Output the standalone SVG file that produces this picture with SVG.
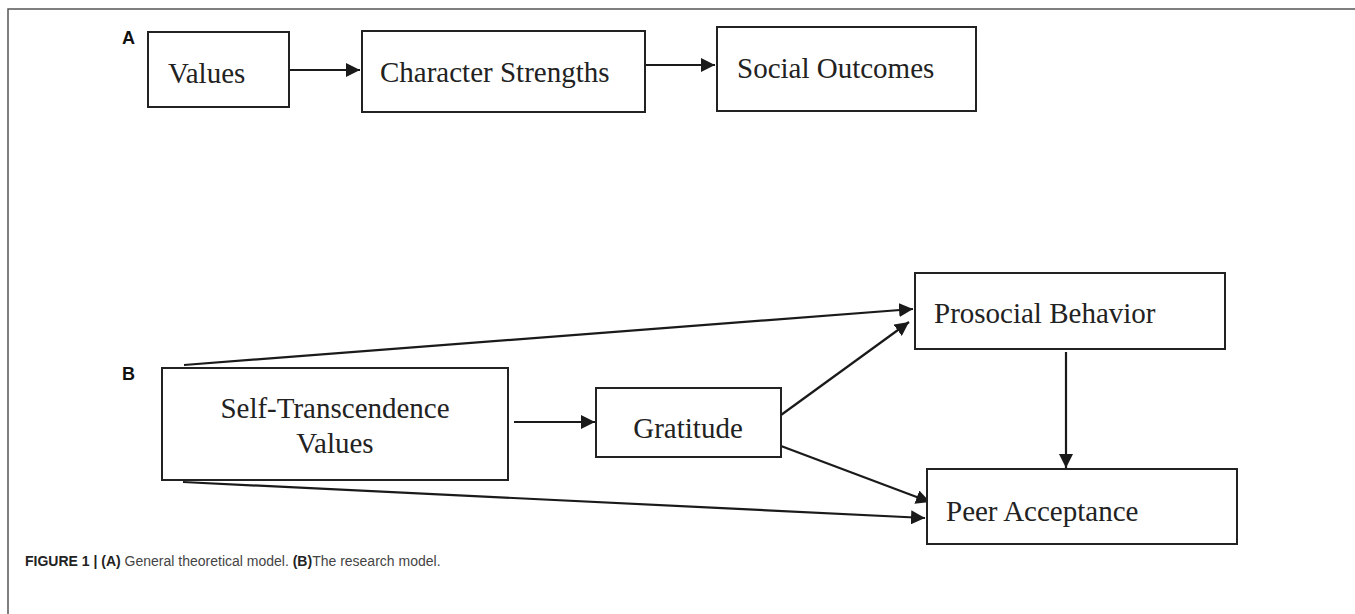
<svg xmlns="http://www.w3.org/2000/svg" width="1355" height="614" viewBox="0 0 1355 614">
<defs>
<style>
.box{fill:#fff;stroke:#222;stroke-width:2}
.lbl{font-family:"Liberation Serif","Times New Roman",serif;font-size:29px;fill:#222}
.tag{font-family:"Liberation Sans",Arial,sans-serif;font-size:18px;font-weight:bold;fill:#111}
.edge{stroke:#1a1a1a;stroke-width:2.2;fill:none;marker-end:url(#ah)}
.frame{stroke:#555;stroke-width:1.5;fill:none}
.cap{font-family:"Liberation Sans",Arial,sans-serif;font-size:14px;fill:#444}
</style>
<marker id="ah" viewBox="0 0 14 14" refX="14" refY="7" markerWidth="14" markerHeight="14" markerUnits="userSpaceOnUse" orient="auto">
<path d="M0,0 L14,7 L0,14 Z" fill="#1a1a1a"/>
</marker>
</defs>
<rect width="1355" height="614" fill="#fff"/>
<path class="frame" d="M8,614 V9 H1355"/>
<text class="tag" x="122" y="44">A</text>
<text class="tag" x="122" y="380">B</text>
<g id="connectors">
<line class="edge" x1="289" y1="70" x2="360" y2="70"/>
<line class="edge" x1="645" y1="65" x2="715" y2="65"/>
<line class="edge" x1="184" y1="365" x2="913" y2="309"/>
<line class="edge" x1="183" y1="482" x2="925" y2="518"/>
<line class="edge" x1="514" y1="422" x2="595" y2="422"/>
<line class="edge" x1="781" y1="415" x2="909" y2="322"/>
<line class="edge" x1="781" y1="446" x2="930" y2="502"/>
<line class="edge" x1="1066" y1="352" x2="1066" y2="468"/>
</g>
<g id="values">
<rect class="box" x="148" y="32" width="141" height="75"/>
<text class="lbl" x="168" y="83">Values</text>
</g>
<g id="character-strengths">
<rect class="box" x="362" y="31" width="283" height="81"/>
<text class="lbl" x="380" y="82">Character Strengths</text>
</g>
<g id="social-outcomes">
<rect class="box" x="717" y="27" width="259" height="84"/>
<text class="lbl" x="737" y="78">Social Outcomes</text>
</g>
<g id="self-transcendence">
<rect class="box" x="162" y="368" width="346" height="112"/>
<text class="lbl" x="335" y="418" text-anchor="middle">Self-Transcendence</text>
<text class="lbl" x="335" y="453" text-anchor="middle">Values</text>
</g>
<g id="gratitude">
<rect class="box" x="596" y="388" width="185" height="69"/>
<text class="lbl" x="688" y="438" text-anchor="middle">Gratitude</text>
</g>
<g id="prosocial">
<rect class="box" x="915" y="273" width="310" height="76"/>
<text class="lbl" x="934" y="323">Prosocial Behavior</text>
</g>
<g id="peer-acceptance">
<rect class="box" x="927" y="469" width="310" height="75"/>
<text class="lbl" x="946" y="521">Peer Acceptance</text>
</g>
<text class="cap" x="25" y="566"><tspan font-weight="bold" fill="#222">FIGURE 1 | (A)</tspan> General theoretical model. <tspan font-weight="bold" fill="#222">(B)</tspan>The research model.</text>
</svg>
